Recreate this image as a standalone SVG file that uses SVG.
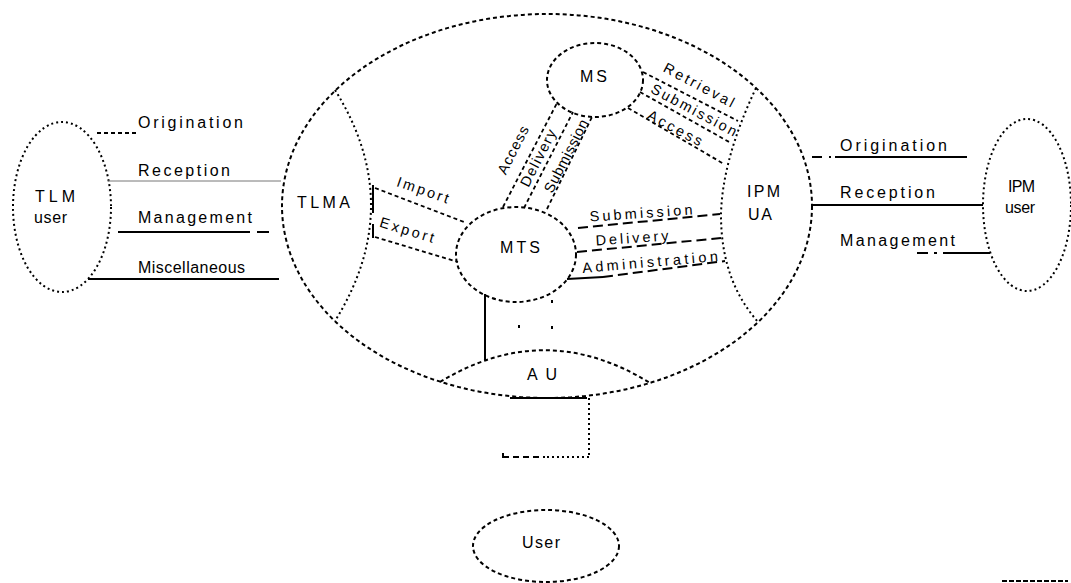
<svg xmlns="http://www.w3.org/2000/svg" width="1071" height="583" viewBox="0 0 1071 583">
<defs>
<style>
.bg{fill:#fff}
.shape{fill:none;stroke:#000;stroke-width:2;stroke-dasharray:4 3}
.dots{fill:none;stroke:#000;stroke-width:2;stroke-dasharray:2 3}
.ln{fill:none;stroke:#000;stroke-width:2}
.dl{fill:none;stroke:#000;stroke-width:1.8;stroke-dasharray:4 3}
.ldl{fill:none;stroke:#000;stroke-width:2;stroke-dasharray:10 5}
text{font-family:"Liberation Sans",Arial,sans-serif;font-size:16px;fill:#000}
.sm{font-size:14.5px}
.c{text-anchor:middle}
</style>
</defs>
<rect class="bg" x="0" y="0" width="1071" height="583"/>

<g id="mhs-boundary">
<ellipse class="shape" cx="547" cy="206" rx="265" ry="192" stroke-dasharray="6 4"/>
</g>

<g id="tlm-user">
<ellipse class="dots" cx="62" cy="207" rx="49" ry="85"/>
<text x="35" y="202" textLength="40">TLM</text>
<text x="34" y="223" textLength="33">user</text>
</g>

<g id="tlma">
<path class="dots" d="M335,90 Q407,205 335,321"/>
<text x="297" y="208" textLength="53">TLMA</text>
</g>

<g id="mts">
<ellipse class="shape" cx="516" cy="254.5" rx="60" ry="47.5"/>
<text x="500" y="253" textLength="40">MTS</text>
</g>

<g id="ms">
<ellipse class="shape" cx="595" cy="80" rx="48" ry="37" stroke-dasharray="5 3"/>
<text x="580" y="82" textLength="27">MS</text>
</g>

<g id="ipm-ua">
<path class="dots" d="M756,88 Q722,160 721,215 Q721,280 758,322"/>
<text x="747" y="197" textLength="33">IPM</text>
<text x="748" y="220" textLength="24">UA</text>
</g>

<g id="ipm-user">
<ellipse class="dots" cx="1027" cy="205" rx="44" ry="86"/>
<text x="1008" y="192" textLength="27">IPM</text>
<text x="1005" y="213" textLength="30">user</text>
</g>

<g id="au">
<path class="shape" d="M440,382 Q545,318 650,383"/>
<path class="ln" d="M510,398 H587"/>
<text x="527" y="380" textLength="30">AU</text>
</g>

<g id="user">
<ellipse class="shape" cx="546" cy="546" rx="73" ry="36" stroke-dasharray="7 4"/>
<text x="522" y="548" textLength="38">User</text>
</g>

<g id="connectors">
<!-- TLM user to TLMA -->
<path class="dl" d="M97,133 H137" stroke-dasharray="9 4"/>
<text x="138" y="128" textLength="105">Origination</text>
<path d="M108,181 H281" fill="none" stroke="#777" stroke-width="1"/>
<text x="138" y="176" textLength="92">Reception</text>
<path class="ln" d="M118,232 H250 M257,232 H269"/>
<text x="138" y="223" textLength="114">Management</text>
<path class="ln" d="M88,279 H279" stroke-width="3"/>
<text x="138" y="273" textLength="107">Miscellaneous</text>

<!-- TLMA to MTS -->
<path class="ln" d="M373,185 V213 M373,224 V238"/>
<path class="dl" d="M375,188 L464,222"/>
<text class="c sm" x="423" y="190" dy="5" transform="rotate(19 423 190)" textLength="54">Import</text>
<path class="dl" d="M375,237 L458,262"/>
<text class="c sm" x="407" y="230" dy="5" transform="rotate(17 407 230)" textLength="56">Export</text>

<!-- MS to MTS -->
<path class="dl" d="M503,207 L557,103 M524,208 L573,112 M547,209 L592,117"/>
<text class="c sm" x="513" y="150" dy="5" transform="rotate(-63 513 150)" textLength="52">Access</text>
<text class="c sm" x="538" y="158" dy="5" transform="rotate(-63 538 158)" textLength="62">Delivery</text>
<text class="c sm" x="566" y="156" dy="5" transform="rotate(-63 566 156)" textLength="80">Submission</text>

<!-- MS to IPM UA -->
<path class="dl" d="M643,72 L738,121 M640,92 L731,143 M628,108 L724,164"/>
<text class="c sm" x="699" y="85" dy="5" transform="rotate(28 699 85)" textLength="78">Retrieval</text>
<text class="c sm" x="694" y="110" dy="5" transform="rotate(28 694 110)" textLength="95">Submission</text>
<text class="c sm" x="675" y="128" dy="5" transform="rotate(28 675 128)" textLength="60">Access</text>

<!-- MTS to IPM UA -->
<path class="ldl" d="M578,228 L720,214"/>
<text class="c sm" x="641" y="213" dy="5" transform="rotate(-4 641 213)" textLength="103">Submission</text>
<path class="ldl" d="M577,252 L721,238"/>
<text class="c sm" x="632" y="238" dy="5" transform="rotate(-4 632 238)" textLength="73">Delivery</text>
<path class="ln" d="M567,279 L603,277" stroke-width="2.5"/>
<path class="ldl" d="M603,277 L725,261"/>
<text class="c sm" x="650" y="262" dy="5" transform="rotate(-5 650 262)" textLength="136">Administration</text>

<!-- IPM UA to IPM user -->
<path class="ln" d="M812,157 H822 M829,157 H831 M835,157 H967"/>
<text x="840" y="151" textLength="107">Origination</text>
<path class="ln" d="M812,205 H983"/>
<text x="840" y="198" textLength="95">Reception</text>
<path class="ln" d="M917,253 H928 M934,253 H937 M943,253 H990"/>
<text x="840" y="246" textLength="115">Management</text>

<!-- MTS to AU -->
<path class="ln" d="M485,294 V360"/>
<path class="ln" d="M552,300 V352" stroke-dasharray="3 23"/>
<path class="ln" d="M519,325 V328"/>

<!-- AU to User -->
<path class="dots" d="M589,398 V458"/>
<path class="ln" d="M503,457 H545" stroke-dasharray="6 4"/>
<path class="dots" d="M547,457 H589" stroke-dasharray="2 8"/>
<path class="ln" d="M503,453 V458"/>
</g>

<path class="ln" d="M1002,581 H1068" stroke-dasharray="5 2"/>
</svg>
